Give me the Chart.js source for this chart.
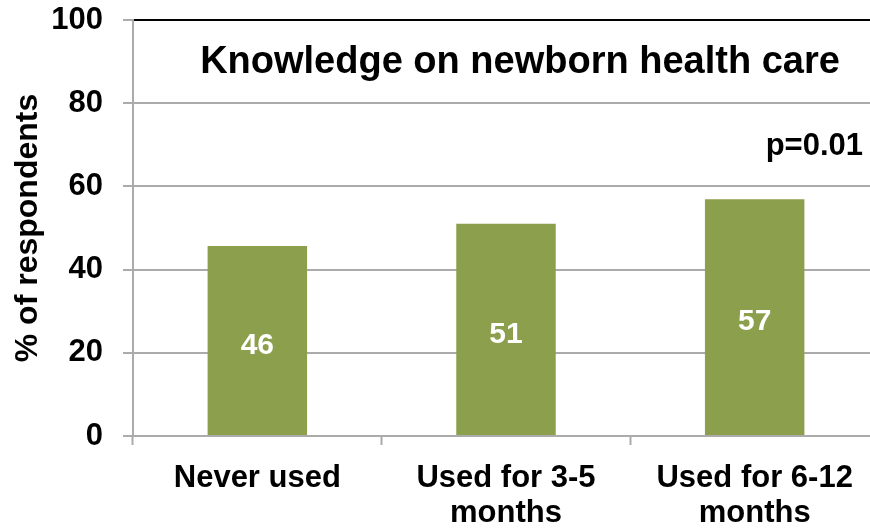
<!DOCTYPE html>
<html>
<head>
<meta charset="utf-8">
<script src="https://cdn.jsdelivr.net/npm/chart.js@4.4.1/dist/chart.umd.min.js"></script>
<style>
  html, body { margin: 0; padding: 0; background: #fff; overflow: hidden; }
  #wrap { width: 880px; height: 528px; }
</style>
</head>
<body>
<div id="wrap"><canvas id="grafico" width="880" height="528"></canvas></div>
<script>
// dados
const categorias = [['Never used'], ['Used for 3-5', 'months'], ['Used for 6-12', 'months']];
const valores = [45.7, 51, 56.9];
const rotulos = ['46', '51', '57'];
const yTicks = [0, 20, 40, 60, 80, 100];
const titulo = 'Knowledge on newborn health care';
const notaP = 'p=0.01';

const FONTE = "'Liberation Sans', Arial, sans-serif";
const VERDE = '#8B9F4C';
const CINZA = '#ababab';

// textos dentro do grafico
const textosPlugin = {
  id: 'textos',
  afterDatasetsDraw(chart) {
    const ctx = chart.ctx;
    const meta = chart.getDatasetMeta(0);
    ctx.save();
    ctx.fillStyle = '#fff';
    ctx.font = 'bold 30px ' + FONTE;
    ctx.textAlign = 'center';
    ctx.textBaseline = 'middle';
    meta.data.forEach((bar, i) => {
      ctx.fillText(rotulos[i], bar.x, (bar.y + bar.base) / 2 + 5);
    });

    ctx.fillStyle = '#000';
    ctx.textBaseline = 'alphabetic';
    ctx.font = 'bold 38px ' + FONTE;
    ctx.fillText(titulo, 520, 73);

    ctx.textAlign = 'right';
    ctx.font = 'bold 31px ' + FONTE;
    ctx.fillText(notaP, 863, 155);
    ctx.restore();
  }
};

new Chart(document.getElementById('grafico'), {
  type: 'bar',
  data: {
    labels: categorias,
    datasets: [{
      data: valores,
      backgroundColor: VERDE,
      borderWidth: 0,
      barPercentage: 0.4,
      categoryPercentage: 1
    }]
  },
  options: {
    responsive: false,
    animation: false,
    layout: { padding: { top: 20, right: 1, left: 0, bottom: 0 } },
    plugins: {
      legend: { display: false },
      tooltip: { enabled: false }
    },
    scales: {
      x: {
        afterFit: s => { s.height = 92; s.paddingLeft = 0; s.paddingRight = 0; },
        grid: {
          drawOnChartArea: false,
          drawTicks: true,
          tickLength: 9,
          tickColor: CINZA,
          tickWidth: 2
        },
        border: { color: CINZA, width: 2 },
        ticks: {
          color: '#000',
          padding: 16,
          font: { family: FONTE, size: 31, weight: 'bold', lineHeight: 1.12 }
        }
      },
      y: {
        min: 0,
        max: 100,
        afterFit: s => { s.width = 133; s.paddingTop = 0; s.paddingBottom = 0; },
        afterBuildTicks: s => { s.ticks = yTicks.map(v => ({ value: v })); },
        grid: {
          color: c => (c.tick && c.tick.value === 100 ? '#000' : CINZA),
          lineWidth: 2,
          tickLength: 10,
          tickColor: CINZA
        },
        border: { color: CINZA, width: 2 },
        ticks: {
          color: '#000',
          padding: 20,
          font: { family: FONTE, size: 31, weight: 'bold' }
        },
        title: {
          display: true,
          text: '% of respondents',
          color: '#000',
          padding: { top: 9, bottom: 0 },
          font: { family: FONTE, size: 32, weight: 'bold' }
        }
      }
    }
  },
  plugins: [textosPlugin]
});
</script>
</body>
</html>
